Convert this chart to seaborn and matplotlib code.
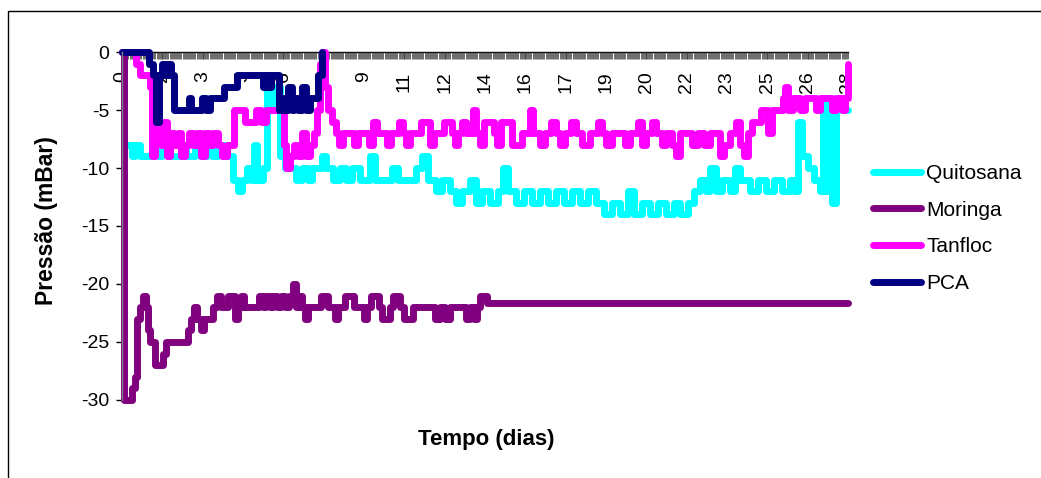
import numpy as np
import pandas as pd
import matplotlib
matplotlib.use("Agg")
import matplotlib.pyplot as plt
from matplotlib.lines import Line2D
from matplotlib.ticker import MultipleLocator, FixedLocator
import seaborn as sns

# ---------------- data ----------------
series_names = ["Quitosana", "Moringa", "Tanfloc", "PCA"]
series_colors = ["#00FFFF", "#800080", "#FF00FF", "#000080"]

x_tick_labels = ['0', '2', '3', '5', '6', '8', '9', '11', '12', '14',
                 '16', '17', '19', '20', '22', '23', '25', '26', '28']
y_ticks = [0, -5, -10, -15, -20, -25, -30]

quitosana_t = [0, 0.08, 0.3, 0.38, 0.5, 0.7, 1.0, 1.15, 1.4, 1.55, 1.73, 1.85, 2.15, 2.27,
               2.47, 2.7, 2.8, 3.0, 3.28, 3.47, 3.7, 3.93, 4.17, 4.28, 4.47, 4.63, 4.82,
               4.97, 5.09, 5.2, 5.44, 5.6, 5.78, 5.94, 6.1, 6.29, 6.56, 6.71, 6.94, 7.17,
               7.33, 7.56, 7.71, 7.87, 8.14, 8.41, 8.64, 8.87, 9.18, 9.41, 9.56, 9.76,
               10.14, 10.41, 10.64, 11.1, 11.34, 11.57, 11.8, 12.1, 12.34, 12.65, 12.88,
               13.11, 13.42, 13.65, 13.88, 14.19, 14.5, 14.69, 14.89, 15.19, 15.5, 15.81,
               16.12, 16.43, 16.74, 17.05, 17.35, 17.66, 17.97, 18.28, 18.59, 18.9, 19.2,
               19.51, 19.75, 20.05, 20.36, 20.67, 20.98, 21.29, 21.52, 21.83, 22.06, 22.29,
               22.52, 22.68, 22.91, 23.14, 23.45, 23.64, 23.83, 24.22, 24.53, 24.84, 25.14,
               25.45, 25.76, 25.92, 26.07, 26.23, 26.46, 26.69, 26.92, 27.03, 27.15, 27.27,
               27.38, 27.53, 27.77, 28.0]
quitosana_v = [0, -8, -8, -9, -8, -9, -9, -8, -9, -8, -8, -9, -9, -8,
               -9, -9, -8, -9, -8, -9, -8, -9, -9, -11, -12, -11, -10,
               -11, -8, -11, -10, -3, -5, -3, -9, -10, -10, -11, -10, -11,
               -10, -10, -9, -10, -11, -10, -11, -10, -11, -11, -9, -11,
               -11, -10, -11, -11, -10, -9, -11, -12, -11, -12, -13,
               -12, -11, -13, -12, -13, -12, -10, -12, -13, -12, -13,
               -12, -13, -12, -13, -12, -13, -12, -13, -14, -13, -14,
               -12, -14, -13, -14, -13, -14, -13, -14, -13, -12, -11,
               -12, -10, -12, -11, -12, -10, -11, -12, -11, -12, -11,
               -12, -11, -12, -6, -9, -10, -11, -12, -4, -12, -5,
               -13, -4, -5, -5]

moringa_t = [0, 0.08, 0.27, 0.39, 0.5, 0.58, 0.69, 0.81, 0.93, 1.0, 1.08, 1.2, 1.27, 1.47,
             1.58, 1.7, 2.43, 2.55, 2.66, 2.78, 2.89, 3.05, 3.16, 3.36, 3.51, 3.66, 3.82,
             3.97, 4.09, 4.24, 4.36, 4.47, 4.59, 4.71, 5.17, 5.28, 5.44, 5.55, 5.71, 5.82,
             5.98, 6.13, 6.29, 6.44, 6.6, 6.71, 6.83, 6.94, 7.06, 7.17, 7.56, 7.68, 7.83,
             7.95, 8.22, 8.33, 8.6, 8.83, 8.95, 9.33, 9.45, 9.6, 9.8, 9.91, 10.03, 10.22,
             10.34, 10.45, 10.61, 10.72, 10.88, 11.11, 11.22, 11.88, 12.07, 12.27, 12.46,
             12.65, 13.11, 13.27, 13.42, 13.58, 13.69, 13.81, 13.96, 14.08, 28.0]
moringa_v = [0, -30, -30, -29, -28, -23, -22, -21, -22, -24, -25, -25, -27, -27,
             -26, -25, -25, -24, -23, -22, -23, -24, -23, -23, -22, -21, -22,
             -22, -21, -21, -23, -22, -21, -22, -22, -21, -22, -21, -22, -21,
             -22, -21, -22, -21, -20, -22, -21, -22, -23, -22, -22, -21, -21,
             -22, -23, -22, -21, -21, -22, -23, -22, -21, -21, -22, -23, -23,
             -22, -21, -21, -22, -23, -23, -22, -22, -23, -22, -23,
             -22, -22, -23, -22, -23, -22, -21, -21, -21.6, -21.6]

tanfloc_t = [0, 0.42, 0.54, 0.69, 1.0, 1.08, 1.16, 1.27, 1.39, 1.5, 1.62, 1.74, 1.85, 2.01,
             2.16, 2.28, 2.43, 2.58, 2.74, 2.89, 3.05, 3.2, 3.36, 3.51, 3.7, 3.86, 4.05,
             4.2, 4.32, 4.59, 4.74, 5.01, 5.17, 5.36, 5.55, 6.13, 6.25, 6.33, 6.48, 6.63,
             6.79, 6.94, 7.1, 7.25, 7.41, 7.52, 7.64, 7.71, 7.83, 7.95, 8.1, 8.25, 8.37,
             8.52, 8.79, 8.95, 9.1, 9.41, 9.53, 9.68, 9.84, 10.11, 10.22, 10.38, 10.68,
             10.84, 10.95, 11.11, 11.42, 11.53, 11.73, 11.88, 12.03, 12.3, 12.42, 12.61,
             12.73, 12.84, 12.96, 13.11, 13.27, 13.42, 13.54, 13.65, 13.81, 13.96, 14.19,
             14.35, 14.46, 14.62, 14.89, 15.04, 15.27, 15.43, 15.66, 15.74, 15.85, 16.12,
             16.32, 16.55, 16.74, 16.89, 17.09, 17.32, 17.51, 17.74, 18.05, 18.36, 18.51,
             18.67, 18.9, 19.21, 19.4, 19.59, 19.9, 20.06, 20.21, 20.44, 20.6, 20.83,
             20.98, 21.21, 21.37, 21.52, 21.83, 21.98, 22.22, 22.45, 22.68, 22.91, 23.06,
             23.22, 23.45, 23.68, 23.84, 23.99, 24.14, 24.3, 24.49, 24.65, 24.8, 24.92,
             25.07, 25.38, 25.49, 25.57, 25.69, 25.88, 26.15, 26.34, 26.61, 26.77, 26.92,
             27.23, 27.38, 27.54, 27.77, 27.89, 28.0]
tanfloc_v = [0, 0, -1, -2, -2, -3, -9, -7, -6, -8, -6, -9, -7, -8,
             -7, -9, -8, -7, -8, -7, -9, -7, -8, -7, -8, -9, -8,
             -8, -5, -5, -6, -6, -5, -6, -5, -5, -8, -10, -9, -8,
             -9, -7, -9, -8, -7, -5, -1, 0, -3, -5, -6, -7, -8,
             -7, -7, -8, -7, -7, -8, -6, -7, -7, -8, -7, -6,
             -7, -8, -7, -7, -6, -6, -8, -7, -7, -6, -6,
             -7, -8, -7, -6, -7, -7, -5, -7, -8, -6, -6,
             -7, -8, -6, -6, -8, -8, -7, -7, -5, -7, -8,
             -7, -6, -7, -8, -7, -6, -7, -8, -7, -6, -7,
             -8, -7, -7, -8, -7, -6, -8, -7, -6, -7, -8,
             -7, -8, -9, -7, -7, -8, -7, -8, -7, -7, -9,
             -8, -7, -6, -8, -9, -7, -6, -6, -5, -5, -7,
             -5, -5, -4, -3, -5, -4, -5, -4, -4, -5, -4,
             -4, -5, -4, -5, -4, -1]

pca_t = [0, 0.95, 1.05, 1.2, 1.3, 1.42, 1.55, 1.65, 1.78, 1.9, 2.0, 2.5, 2.58, 2.65,
         3.0, 3.1, 3.25, 3.4, 3.85, 3.95, 4.3, 4.45, 4.55, 5.35, 5.45, 5.55, 5.65, 5.75,
         5.9, 6.05, 6.2, 6.3, 6.4, 6.55, 6.65, 6.8, 6.95, 7.1, 7.25, 7.4, 7.55, 7.7]
pca_v = [0, 0, -1, -2, -6, -2, -1, -2, -1, -2, -5, -5, -4, -5,
         -5, -4, -5, -4, -4, -3, -3, -2, -2, -2, -3, -2, -3, -2,
         -2, -5, -4, -5, -3, -5, -4, -5, -3, -5, -4, -4, -2, 0]

# ---------------- build table ----------------
frames = []
for name, t, v in zip(series_names,
                      [quitosana_t, moringa_t, tanfloc_t, pca_t],
                      [quitosana_v, moringa_v, tanfloc_v, pca_v]):
    frames.append(pd.DataFrame({"Tempo": t, "Pressao": v, "Serie": name}))
df = pd.concat(frames, ignore_index=True)

# ---------------- style ----------------
sns.set_style("white")
plt.rcParams['font.family'] = ['Liberation Sans', 'DejaVu Sans']
plt.rcParams['text.color'] = 'black'
plt.rcParams['axes.labelcolor'] = 'black'
plt.rcParams['xtick.color'] = 'black'
plt.rcParams['ytick.color'] = 'black'

LW = 5.0

fig = plt.figure(figsize=(10.41, 4.78), dpi=100)
ax = fig.add_axes([0.1172, 0.1632, 0.6974, 0.7280])

sns.lineplot(data=df, x="Tempo", y="Pressao", hue="Serie",
             hue_order=series_names, palette=series_colors,
             estimator=None, sort=False, linewidth=LW, legend=False,
             drawstyle='steps-post', ax=ax)
for line in ax.lines:
    line.set_clip_on(False)
    line.set_solid_joinstyle('round')
    line.set_solid_capstyle('round')

ax.set_xlim(0, 28)
ax.set_ylim(-30, 0)

# spines
ax.spines['top'].set_visible(False)
ax.spines['right'].set_visible(False)
ax.spines['bottom'].set_position(('data', 0))
ax.spines['bottom'].set_color('black')
ax.spines['bottom'].set_linewidth(1.0)
ax.spines['left'].set_color('#808080')
ax.spines['left'].set_linewidth(1.0)
ax.spines['bottom'].set_zorder(0.5)

# x ticks
ax.xaxis.set_major_locator(FixedLocator(np.linspace(0, 28, len(x_tick_labels))))
ax.set_xticklabels(x_tick_labels, rotation=90, fontsize=14, color='black')
ax.xaxis.set_minor_locator(MultipleLocator(1 / 24))
ax.tick_params(axis='x', which='both', direction='out', length=5, width=0.5,
               color='#333333', bottom=True)
ax.tick_params(axis='x', which='major', pad=9)

# y ticks
ax.set_yticks(y_ticks)
ax.set_yticklabels([str(v) for v in y_ticks], fontsize=14, color='black')
ax.tick_params(axis='y', which='major', direction='out', length=4, width=1,
               color='black', left=True, pad=5)

ax.set_xlabel("Tempo (dias)", fontsize=16, fontweight='bold', color='black')
ax.set_ylabel("Pressão (mBar)", fontsize=16.5, fontweight='bold', color='black')
ax.xaxis.set_label_coords(486 / 1041, 1 - 440 / 478, transform=fig.transFigure)
ax.xaxis.label.set_verticalalignment('center')
ax.yaxis.set_label_coords(47 / 1041, 1 - 221 / 478, transform=fig.transFigure)
ax.yaxis.label.set_verticalalignment('center')

# legend
handles = [Line2D([0], [0], color=c, lw=LW, solid_capstyle='round') for c in series_colors]
fig.legend(handles, series_names, loc='upper left',
           bbox_to_anchor=(873 / 1041, 1 - 164 / 478), bbox_transform=fig.transFigure,
           frameon=False, fontsize=15, handlelength=2.3, handletextpad=0.25,
           labelspacing=0.85, borderpad=0, borderaxespad=0)

# outer frame (left and top edges)
fig.add_artist(Line2D([8 / 1041, 8 / 1041, 1.0], [0.0, 1 - 11 / 478, 1 - 11 / 478],
                      transform=fig.transFigure, color='black', lw=1.0))

fig.savefig("out.png", dpi=100)
